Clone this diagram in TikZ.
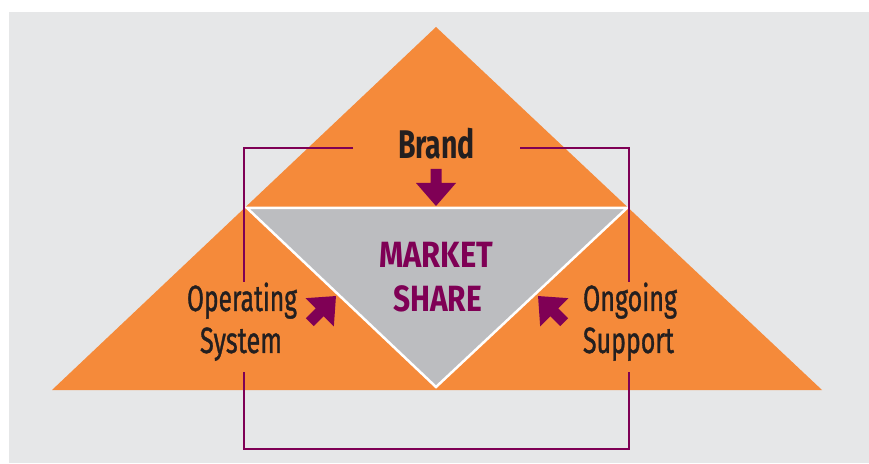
\documentclass[tikz,border=0pt]{standalone}
\usepackage{fontspec}
\setmainfont{Fira Sans}
\newfontfamily\medfont{Fira Sans}[FakeBold=1.2]
\usepackage{graphicx}
\definecolor{bgcol}{HTML}{E6E7E8}
\definecolor{orng}{HTML}{F58A3A}
\definecolor{gry}{HTML}{BCBDC0}
\definecolor{purp}{HTML}{7F0055}
\definecolor{ink}{HTML}{231F20}
\begin{document}
\begin{tikzpicture}[x=1pt,y=1pt,
  frame/.style={draw=purp,line width=2.2pt},
  lbl/.style={inner sep=0pt,anchor=base,text=ink,font=\fontsize{36.5}{36.5}\selectfont\medfont},
  blbl/.style={inner sep=0pt,anchor=base,text=purp,font=\fontsize{36.5}{36.5}\selectfont\bfseries},
  fatarrow/.pic={\fill[purp] (0,-5.5) -- (14,-5.5) -- (14,-20) -- (37,0) -- (14,20) -- (14,5.5) -- (0,5.5) -- cycle;}]
\useasboundingbox (0,0) rectangle (869,463);
\fill[bgcol] (9,0) rectangle (869,451);
% big triangle
\fill[orng] (52,73) -- (436,436) -- (822,73) -- cycle;
% inner triangle
\filldraw[fill=gry,draw=white,line width=2.5pt,line join=miter] (247,255) -- (627,255) -- (436,76) -- cycle;
% labels
\node[lbl,text=ink,font=\fontsize{40}{40}\selectfont\bfseries] (brand) at (436.5,304.7) {\resizebox{77pt}{\height}{Brand}};
\node[blbl] (mkt) at (436,195) {\resizebox{114pt}{\height}{MARKET}};
\node[blbl] (shr) at (437.5,151) {\resizebox{89pt}{\height}{SHARE}};
\node[lbl] (op) at (242,152) {\resizebox{110pt}{\height}{Operating}};
\node[lbl] (sys) at (241,110) {\resizebox{82pt}{\height}{System}};
\node[lbl] (ong) at (630,152) {\resizebox{94pt}{\height}{Ongoing}};
\node[lbl] (sup) at (628.5,110) {\resizebox{91pt}{\height}{Support}};
% frame
\coordinate (ftl) at (244,315);
\coordinate (ftr) at (629,315);
\coordinate (fbl) at (244,14);
\coordinate (fbr) at (629,14);
\coordinate (bl) at (353,315);
\coordinate (br) at (520,315);
\coordinate (lu) at (244,181);
\coordinate (ru) at (629,181);
\coordinate (ld) at (244,91);
\coordinate (rd) at (629,91);
\draw[frame] (bl) -- (ftl) -- (lu);
\draw[frame] (br) -- (ftr) -- (ru);
\draw[frame] (ld) -- (fbl) -- (fbr) -- (rd);
% arrows
\pic[rotate=-90] at (436,294) {fatarrow};
\pic[rotate=45] at (309.8,140.8) {fatarrow};
\pic[rotate=135] at (564.2,140.8) {fatarrow};
\end{tikzpicture}
\end{document}
